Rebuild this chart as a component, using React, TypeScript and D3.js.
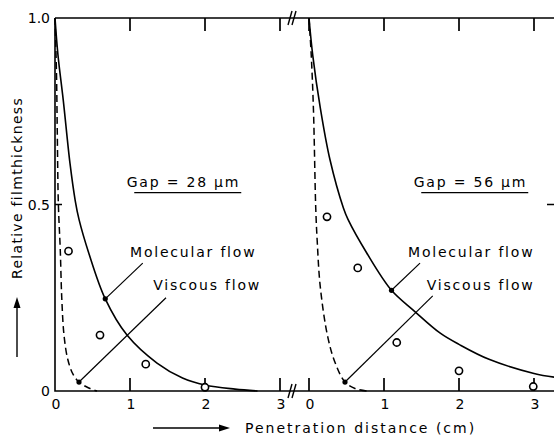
import React from 'react';
import * as d3 from 'd3';

const W = 554;
const H = 437;

// values: [penetration distance (cm), relative film thickness]
const molecular28 = [[0, 1], [0.04, 0.9], [0.11, 0.78], [0.2, 0.61], [0.27, 0.51], [0.32, 0.46], [0.45, 0.37], [0.67, 0.247], [0.96, 0.15], [1.36, 0.075], [1.7, 0.035], [2.0, 0.016], [2.4, 0.005], [2.7, 0]];
const viscous28 = [[0, 1], [0.02, 0.85], [0.03, 0.7], [0.045, 0.5], [0.07, 0.38], [0.09, 0.25], [0.12, 0.15], [0.17, 0.085], [0.24, 0.045], [0.32, 0.024], [0.45, 0.008], [0.56, 0]];
const measured28 = [[0.18, 0.375], [0.6, 0.15], [1.21, 0.072], [2.0, 0.01]];

const molecular56 = [[0, 1], [0.05, 0.9], [0.15, 0.76], [0.28, 0.62], [0.46, 0.49], [0.52, 0.46], [0.77, 0.37], [1.1, 0.27], [1.4, 0.215], [1.75, 0.155], [2.0, 0.125], [2.4, 0.085], [3.0, 0.047], [3.27, 0.037]];
const viscous56 = [[0, 1], [0.03, 0.9], [0.06, 0.75], [0.09, 0.49], [0.11, 0.4], [0.15, 0.28], [0.25, 0.145], [0.35, 0.075], [0.48, 0.024], [0.62, 0.006], [0.77, 0]];
const measured56 = [[0.24, 0.467], [0.65, 0.33], [1.17, 0.13], [2.0, 0.054], [2.99, 0.012]];

const xTicks = [0, 1, 2, 3];
const yTickLabels = [[0, '0'], [0.5, '0.5'], [1, '1.0']];

// marker points on the curves for the leader lines
const molecularMark28 = [0.67, 0.247];
const viscousMark28 = [0.32, 0.024];
const molecularMark56 = [1.1, 0.27];
const viscousMark56 = [0.48, 0.024];

const FONT = '"DejaVu Sans", sans-serif';

const App = () => {
  const y = d3.scaleLinear().domain([0, 1]).range([391, 18]);
  const xL = d3.scaleLinear().domain([0, 3]).range([55, 280]);
  const xR = d3.scaleLinear().domain([0, 3]).range([309, 534]);

  // steep parts of the curves are better served by a parametric curve
  const curveL = d3.line().x(d => xL(d[0])).y(d => y(d[1])).curve(d3.curveCatmullRom.alpha(0.5));
  const curveR = d3.line().x(d => xR(d[0])).y(d => y(d[1])).curve(d3.curveCatmullRom.alpha(0.5));

  const breakX = 292;
  const breakMark = (yy) => (
    <g>
      <line x1={breakX - 4} y1={yy + 7} x2={breakX} y2={yy - 7} stroke='#000' strokeWidth='1.4' />
      <line x1={breakX} y1={yy + 7} x2={breakX + 4} y2={yy - 7} stroke='#000' strokeWidth='1.4' />
    </g>
  );

  // all x ticks as one path: up from the bottom axis, down from the top axis
  const tickXs = [...xTicks.filter(t => t > 0).map(xL), ...xTicks.map(xR)];
  const tickPath = tickXs.map(px =>
    `M${px},${y(0)}V${y(0) - 13}M${px},${y(1)}V${y(1) + 13}`).join('')
    + `M${xL(0)},${y(0.5)}H${xL(0) + 7}M${W - 7},${y(0.5)}H${W}`;

  const label = { fontFamily: FONT, fontSize: '14px', letterSpacing: '1.8px' };

  const panel = (x, mol, visc, obs, molMark, viscMark, curve, gap, gapEnd, molText, viscText) => (
    <g>
      <path d={curve(mol)} fill='none' stroke='#000' strokeWidth='1.6' />
      <path d={curve(visc)} fill='none' stroke='#000' strokeWidth='1.5' strokeDasharray='7,4' />
      {obs.map((d, i) => (
        <circle key={i} cx={x(d[0])} cy={y(d[1])} r='3.6' fill='#fff' stroke='#000' strokeWidth='1.6' />
      ))}
      <circle cx={x(molMark[0])} cy={y(molMark[1])} r='2.6' fill='#000' />
      <circle cx={x(viscMark[0])} cy={y(viscMark[1])} r='2.6' fill='#000' />
      <line x1={x(molMark[0])} y1={y(molMark[1])} x2={x(molText.lead[0])} y2={y(molText.lead[1])} stroke='#000' strokeWidth='1.2' />
      <line x1={x(viscMark[0])} y1={y(viscMark[1])} x2={x(viscText.lead[0])} y2={y(viscText.lead[1])} stroke='#000' strokeWidth='1.2' />
      <text x={x(molText.at[0])} y={y(molText.at[1])} style={label}>Molecular flow</text>
      <text x={x(viscText.at[0])} y={y(viscText.at[1])} style={label}>Viscous flow</text>
      <text x={x(gapEnd)} y={y(0.547)} textAnchor='end' style={label}>{gap}</text>
      <line x1={x(gapEnd) - 106} x2={x(gapEnd) + 1} y1={y(0.532)} y2={y(0.532)} stroke='#000' strokeWidth='1.3' />
    </g>
  );

  return (
    <div style={{ position: 'absolute', left: 0, top: 0 }}>
      <svg width={W} height={H} style={{ display: 'block', background: '#fff' }}>
        {/* frame */}
        <path d={`M${xL(0)},${y(1)}V${y(0)}H${W}M${xL(0)},${y(1)}H${W}`} fill='none' stroke='#000' strokeWidth='1.6' />
        {breakMark(y(0))}
        {breakMark(y(1))}
        <path d={tickPath} fill='none' stroke='#000' strokeWidth='1.7' />
        {/* tick labels */}
        <g style={{ fontFamily: FONT, fontSize: '14px' }} textAnchor='middle'>
          {xTicks.map(t => (
            <text key={'lt' + t} x={xL(t) + 1} y={409}>{t}</text>
          ))}
          {xTicks.map(t => (
            <text key={'rt' + t} x={xR(t) + 1} y={409}>{t}</text>
          ))}
          {yTickLabels.map(([v, s]) => (
            <text key={s} x={xL(0) - 5} y={y(v) + 5} textAnchor='end'>{s}</text>
          ))}
        </g>
        {panel(xL, molecular28, viscous28, measured28, molecularMark28, viscousMark28, curveL, 'Gap = 28 \u00b5m', 2.47,
          { lead: [1.17, 0.343], at: [1.0, 0.36] }, { lead: [1.48, 0.25], at: [1.31, 0.272] })}
        {panel(xR, molecular56, viscous56, measured56, molecularMark56, viscousMark56, curveR, 'Gap = 56 \u00b5m', 2.91,
          { lead: [1.48, 0.343], at: [1.32, 0.36] }, { lead: [1.65, 0.255], at: [1.57, 0.272] })}
        {/* axis titles with arrows */}
        <text transform={`translate(22,${188}) rotate(-90)`} textAnchor='middle'
          style={{ fontFamily: FONT, fontSize: '14px', letterSpacing: '1.3px' }}>Relative filmthickness</text>
        <line x1={17} x2={17} y1={357} y2={306} stroke='#000' strokeWidth='1.4' />
        <path d='M17,297 L13.5,308 L20.5,308 Z' fill='#000' />
        <text x={245} y={433} style={{ fontFamily: FONT, fontSize: '14px', letterSpacing: '2px' }}>Penetration distance (cm)</text>
        <line x1={153} x2={222} y1={428} y2={428} stroke='#000' strokeWidth='1.4' />
        <path d='M230,428 L219,424.5 L219,431.5 Z' fill='#000' />
      </svg>
    </div>
  );
};

export default App;
